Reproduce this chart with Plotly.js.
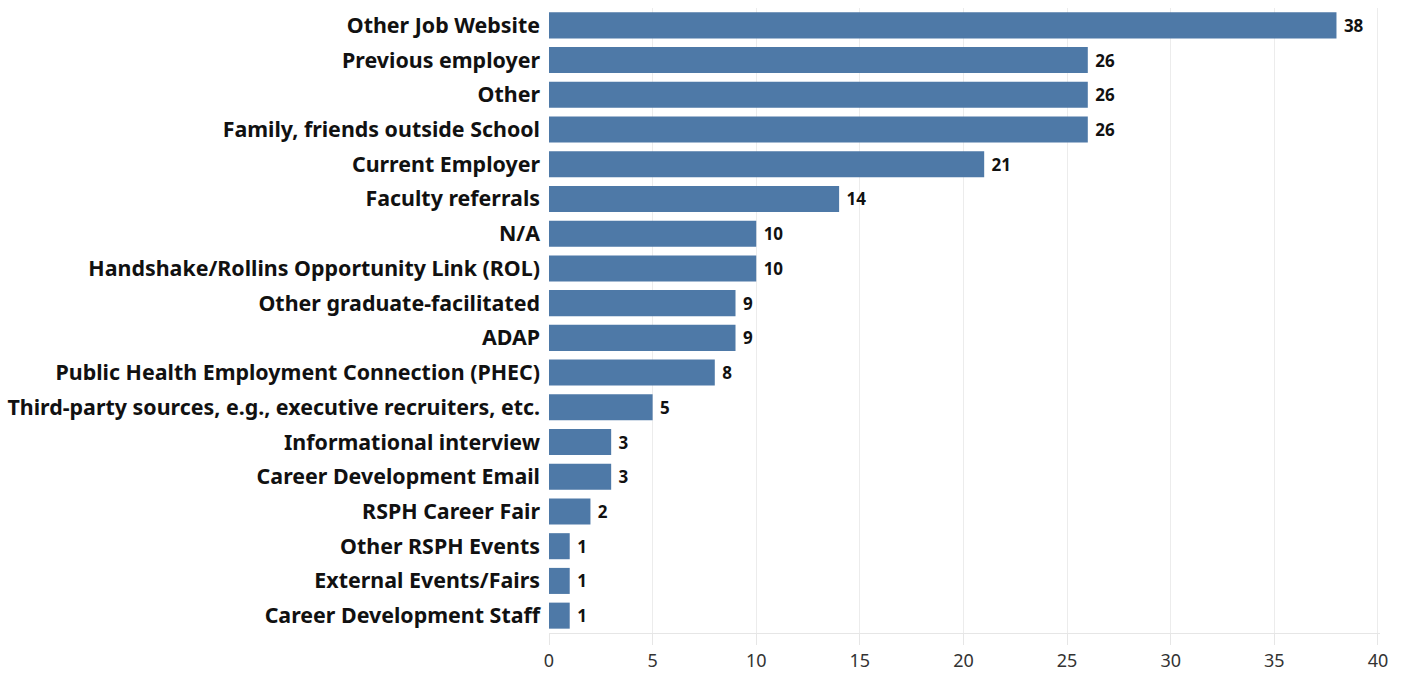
<!DOCTYPE html>
<html><head><meta charset="utf-8">
<script src="https://cdn.plot.ly/plotly-3.0.1.min.js"></script>
<style>html,body{margin:0;padding:0;background:#fff}#chart{width:1408px;height:673px}</style>
</head><body><div id="chart"></div>
<script>
const categories = [
  "Other Job Website",
  "Previous employer",
  "Other",
  "Family, friends outside School",
  "Current Employer",
  "Faculty referrals",
  "N/A",
  "Handshake/Rollins Opportunity Link (ROL)",
  "Other graduate-facilitated",
  "ADAP",
  "Public Health Employment Connection (PHEC)",
  "Third-party sources, e.g., executive recruiters, etc.",
  "Informational interview",
  "Career Development Email",
  "RSPH Career Fair",
  "Other RSPH Events",
  "External Events/Fairs",
  "Career Development Staff"
];
const counts = [38, 26, 26, 26, 21, 14, 10, 10, 9, 9, 8, 5, 3, 3, 2, 1, 1, 1];
const xTicks = [0, 5, 10, 15, 20, 25, 30, 35, 40];

const trace = {
  type: 'bar',
  orientation: 'h',
  y: categories,
  x: counts,
  text: counts.map(v => ' ' + v),
  textposition: 'outside',
  cliponaxis: false,
  textfont: {family: '"Noto Sans", sans-serif', size: 17, color: '#111', weight: 'bold'},
  marker: {color: '#4e79a7'},
  hoverinfo: 'none'
};

const layout = {
  width: 1408, height: 673,
  margin: {l: 549, r: 28, t: 8, b: 40},
  paper_bgcolor: '#fff', plot_bgcolor: '#fff',
  bargap: 0.25,
  showlegend: false,
  font: {family: '"Noto Sans", sans-serif'},
  xaxis: {
    range: [0, 40.1],
    tickvals: xTicks,
    ticktext: xTicks.map(String),
    showgrid: true, gridcolor: '#ececec', gridwidth: 1,
    zeroline: false,
    showline: true, linecolor: '#e6e6e6', linewidth: 1,
    ticks: 'outside', ticklen: 11, tickcolor: '#e6e6e6',
    tickfont: {size: 18, color: '#333'},
    fixedrange: true
  },
  yaxis: {
    autorange: 'reversed',
    type: 'category',
    showgrid: false, zeroline: false, showline: false,
    ticks: '', ticklabelstandoff: 8,
    tickfont: {size: 21.4, color: '#111', weight: 'bold'},
    fixedrange: true
  }
};

Plotly.newPlot('chart', [trace], layout, {displayModeBar: false, staticPlot: true});
</script>
</body></html>
